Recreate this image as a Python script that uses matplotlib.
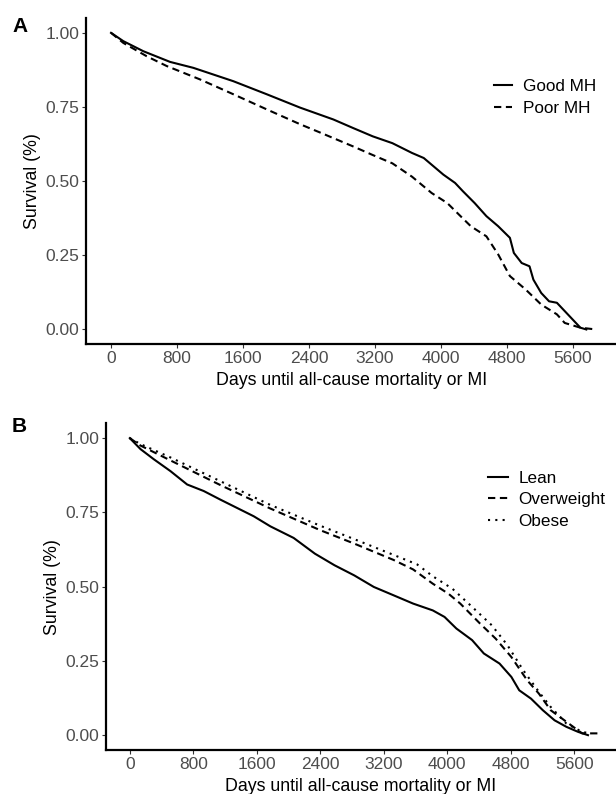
import numpy as np
import matplotlib
matplotlib.use('Agg')
import matplotlib.pyplot as plt

plt.rcParams.update({
    'font.family': ['Liberation Sans', 'DejaVu Sans'],
    'font.size': 12,
})

# ── Panel A: mental health ──────────────────────────────────────────────────
good_days = [0, 149, 392, 716, 998, 1483, 1888, 2292, 2696, 2937, 3175, 3413,
             3651, 3793, 4031, 4173, 4268, 4411, 4553, 4696, 4838, 4886, 4981,
             5076, 5123, 5218, 5313, 5408, 5503, 5598, 5693, 5765]
good_surv = [1.00, 0.972, 0.938, 0.902, 0.882, 0.837, 0.793, 0.748, 0.708, 0.679,
             0.651, 0.628, 0.595, 0.578, 0.522, 0.494, 0.466, 0.426, 0.382, 0.348,
             0.309, 0.258, 0.224, 0.213, 0.168, 0.123, 0.095, 0.090, 0.062, 0.034,
             0.006, 0.0]
poor_days = [0, 149, 433, 676, 1079, 1483, 1888, 2292, 2535, 2937, 3175, 3413,
             3651, 3889, 4079, 4221, 4364, 4553, 4696, 4838, 5028, 5218, 5408,
             5503, 5693, 5883]
poor_surv = [1.00, 0.966, 0.921, 0.888, 0.843, 0.793, 0.742, 0.692, 0.664, 0.617,
             0.588, 0.560, 0.515, 0.460, 0.426, 0.387, 0.348, 0.314, 0.253, 0.180,
             0.135, 0.084, 0.051, 0.022, 0.006, 0.0]

# ── Panel B: BMI groups ─────────────────────────────────────────────────────
lean_days = [0, 135, 302, 512, 722, 931, 1141, 1561, 1771, 2064, 2332, 2579,
             2827, 3074, 3322, 3569, 3817, 3965, 4114, 4312, 4460, 4658, 4807,
             4906, 5054, 5203, 5351, 5500, 5648, 5772]
lean_surv = [1.00, 0.963, 0.929, 0.889, 0.844, 0.822, 0.793, 0.737, 0.703, 0.664,
             0.611, 0.572, 0.538, 0.499, 0.471, 0.443, 0.420, 0.398, 0.359, 0.320,
             0.275, 0.241, 0.196, 0.151, 0.123, 0.084, 0.050, 0.028, 0.011, 0.0]
over_days = [0, 135, 512, 1141, 1771, 2400, 2827, 3322, 3569, 3817, 4015, 4163,
             4411, 4609, 4807, 5005, 5153, 5302, 5500, 5698, 5921]
over_surv = [1.00, 0.975, 0.925, 0.842, 0.763, 0.690, 0.645, 0.590, 0.558, 0.510,
             0.476, 0.443, 0.376, 0.325, 0.263, 0.185, 0.140, 0.084, 0.045, 0.006,
             0.006]
obese_days = [0, 135, 512, 1141, 1771, 2400, 2827, 3322, 3619, 3817, 4064, 4312,
              4560, 4757, 4955, 5153, 5302, 5500, 5698, 5797]
obese_surv = [1.00, 0.980, 0.935, 0.855, 0.775, 0.705, 0.660, 0.607, 0.575, 0.535,
              0.493, 0.432, 0.370, 0.303, 0.219, 0.146, 0.095, 0.039, 0.011, 0.006]

x_ticks = [0, 800, 1600, 2400, 3200, 4000, 4800, 5600]
y_ticks = [0.00, 0.25, 0.50, 0.75, 1.00]

fig = plt.figure(figsize=(6.16, 7.94), dpi=100)
axA = fig.add_axes([86.3 / 616, 1 - 344.3 / 794, 1 - 86.3 / 616, (344.3 - 18) / 794])
axB = fig.add_axes([106 / 616, 1 - 750 / 794, 1 - 106 / 616, (750 - 423.3) / 794])

LW = 1.5
DASH = (0, (3.5, 2.2))
DOT = (0, (1, 2.5))


def style(ax):
    ax.set_xlim(-300, 6125)
    ax.set_ylim(-0.05, 1.05)
    ax.set_xticks(x_ticks)
    ax.set_yticks(y_ticks)
    ax.set_yticklabels([f'{v:.2f}' for v in y_ticks])
    for s in ['top', 'right']:
        ax.spines[s].set_visible(False)
    for s in ['left', 'bottom']:
        ax.spines[s].set_linewidth(1.6)
    ax.tick_params(axis='both', length=2.75, width=0.8, color='#333333',
                   labelcolor='#4D4D4D', labelsize=12.5, pad=2.2)
    ax.set_xlabel('Days until all-cause mortality or MI', fontsize=12.8, labelpad=4.5)
    ax.set_ylabel('Survival (%)', fontsize=12.8, labelpad=3)


axA.plot(good_days, good_surv, color='black', lw=LW, label='Good MH')
axA.plot(poor_days, poor_surv, color='black', lw=LW, ls=DASH, label='Poor MH')
style(axA)
axA.legend(loc='upper left', bbox_to_anchor=(485 / 616, 1 - 70 / 794),
           bbox_transform=fig.transFigure, frameon=False, borderpad=0,
           fontsize=12.3, handlelength=1.1, handletextpad=0.6, labelspacing=0.45)

axB.plot(lean_days, lean_surv, color='black', lw=LW, label='Lean')
axB.plot(over_days, over_surv, color='black', lw=LW, ls=DASH, label='Overweight')
axB.plot(obese_days, obese_surv, color='black', lw=LW, ls=DOT, label='Obese')
style(axB)
axB.legend(loc='upper left', bbox_to_anchor=(479 / 616, 1 - 462 / 794),
           bbox_transform=fig.transFigure, frameon=False, borderpad=0,
           fontsize=12.3, handlelength=1.2, handletextpad=0.6, labelspacing=0.4)

fig.text(12 / 616, 1 - 26 / 794, 'A', fontsize=15, fontweight='bold', va='center')
fig.text(12 / 616, 1 - 427 / 794, 'B', fontsize=15, fontweight='bold', va='center')

fig.savefig('out.png', dpi=100)
